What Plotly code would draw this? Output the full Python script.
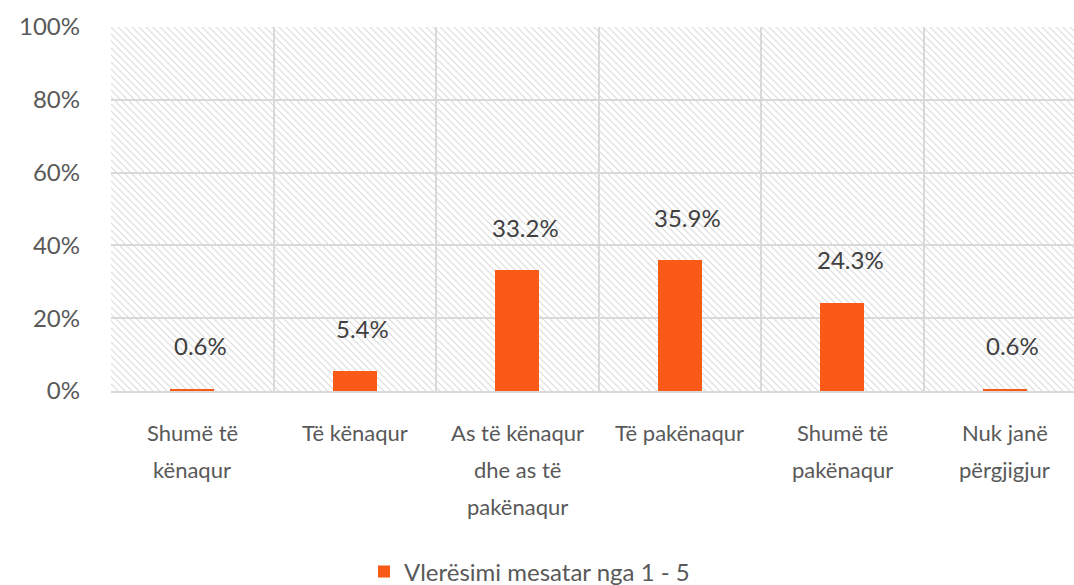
import plotly.graph_objects as go

categories = ["Shumë të kënaqur", "Të kënaqur", "As të kënaqur dhe as të pakënaqur",
              "Të pakënaqur", "Shumë të pakënaqur", "Nuk janë përgjigjur"]
category_lines = [["Shumë të", "kënaqur"], ["Të kënaqur"], ["As të kënaqur", "dhe as të", "pakënaqur"],
                  ["Të pakënaqur"], ["Shumë të", "pakënaqur"], ["Nuk janë", "përgjigjur"]]
values = [0.006, 0.054, 0.332, 0.359, 0.243, 0.006]
value_labels = ["0.6%", "5.4%", "33.2%", "35.9%", "24.3%", "0.6%"]
series_name = "Vlerësimi mesatar nga 1 - 5"
y_ticks = [0, 0.2, 0.4, 0.6, 0.8, 1.0]
y_tick_labels = ["0%", "20%", "40%", "60%", "80%", "100%"]

FONT = "Lato"
ORANGE = "#F95A17"
GRID = "#d9d9d9"

W, H = 1074, 585
L, T, B, R = 111, 27, 194, 0
pw, ph = W - L - R, H - T - B
cat_px = 162.5
x_max = -0.5 + pw / cat_px

hatch_svg = (
    f"<svg xmlns='http://www.w3.org/2000/svg' width='{pw}' height='{ph}' viewBox='0 0 {pw} {ph}' preserveAspectRatio='none'>"
    "<defs><pattern id='p' patternUnits='userSpaceOnUse' width='7' height='7'>"
    "<path d='M-1,6 l2,2 M0,0 l7,7 M6,-1 l2,2' stroke='%23dcdcdc' stroke-width='1.2'/>"
    "</pattern></defs>"
    f"<rect width='{pw}' height='{ph}' fill='white'/>"
    f"<rect width='{pw}' height='{ph}' fill='url(%23p)'/></svg>"
)
hatch_uri = "data:image/svg+xml;charset=utf-8," + hatch_svg.replace("<", "%3C").replace(">", "%3E").replace(" ", "%20")

fig = go.Figure()
fig.add_trace(go.Bar(
    x=categories, y=values, name=series_name, marker=dict(color=ORANGE, line=dict(width=0)),
    width=0.27, showlegend=True, hoverinfo="skip",
))

annotations = []
for c, v, t in zip(categories, values, value_labels):
    annotations.append(dict(x=c, y=v, xref="x", yref="y", text=t, showarrow=False,
                            yanchor="middle", yshift=43, xshift=8,
                            font=dict(family=FONT, size=24, color="#404040")))
for c, lines in zip(categories, category_lines):
    for i, line in enumerate(lines):
        annotations.append(dict(x=c, y=0, xref="x", yref="paper", text=line, showarrow=False,
                                yanchor="middle", yshift=-(41 + 37 * i),
                                font=dict(family=FONT, size=22, color="#595959")))

fig.update_layout(
    width=W, height=H,
    margin=dict(l=L, r=R, t=T, b=B, pad=0, autoexpand=False),
    paper_bgcolor="white", plot_bgcolor="rgba(0,0,0,0)",
    font=dict(family=FONT, color="#595959"),
    bargap=0,
    images=[dict(source=hatch_uri, xref="paper", yref="paper", x=0, y=1, sizex=1, sizey=1,
                 xanchor="left", yanchor="top", sizing="stretch", layer="below")],
    annotations=annotations,
    legend=dict(orientation="h", xref="container", yref="container",
                x=364 / W, xanchor="left", y=13 / H, yanchor="middle",
                font=dict(family=FONT, size=24, color="#595959"), bgcolor="rgba(0,0,0,0)"),
    xaxis=dict(type="category", range=[-0.5, x_max], tickson="boundaries", showgrid=True,
               gridcolor=GRID, gridwidth=2, showticklabels=False, ticks="",
               showline=True, linecolor=GRID, linewidth=2, zeroline=False, fixedrange=True),
    yaxis=dict(range=[0, 1], tickvals=y_ticks, ticktext=y_tick_labels, showgrid=True,
               gridcolor=GRID, gridwidth=2, zeroline=False, showline=False,
               ticklabelstandoff=30, tickfont=dict(family=FONT, size=24, color="#595959"),
               fixedrange=True),
)

fig.write_html("out.html", config={"displayModeBar": False, "staticPlot": True},
               post_script="document.body.style.margin='0';document.body.style.overflow='hidden';")
